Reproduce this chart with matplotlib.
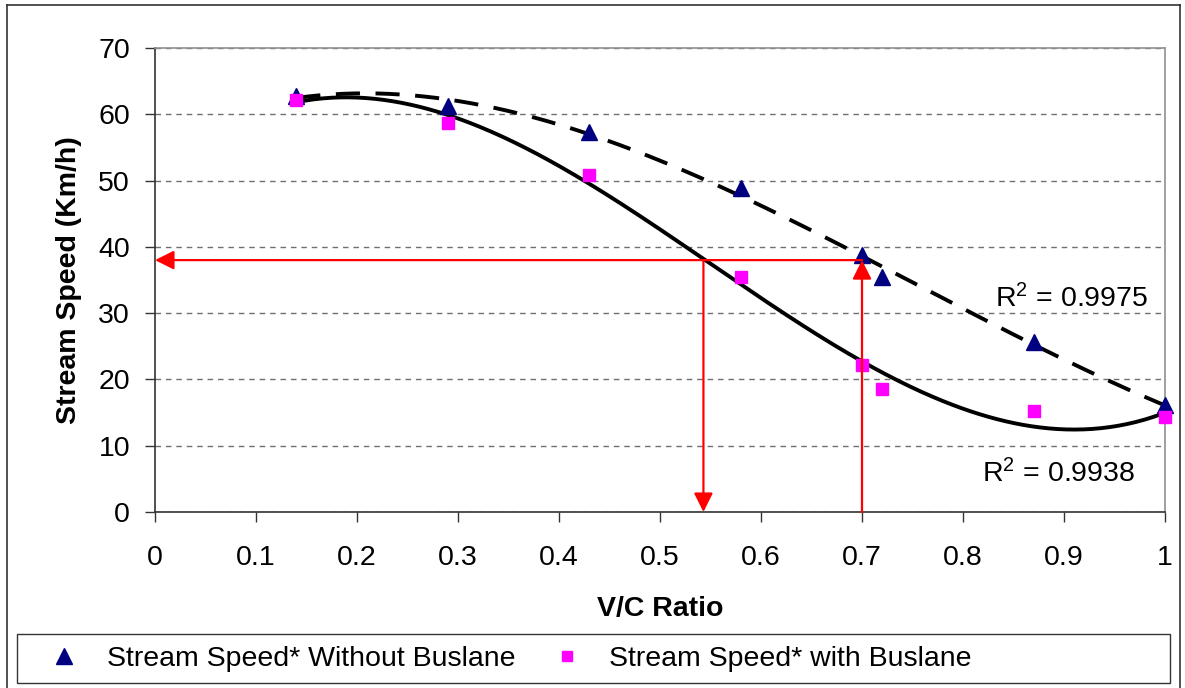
import numpy as np
import matplotlib
matplotlib.use("Agg")
import matplotlib.pyplot as plt
from matplotlib.lines import Line2D
from matplotlib.patches import Rectangle

plt.rcParams['font.family'] = ['Liberation Sans', 'DejaVu Sans']
plt.rcParams['mathtext.default'] = 'regular'

# data
vc_ratio = [0.14, 0.29, 0.43, 0.58, 0.70, 0.72, 0.87, 1.00]
speed_without = [62.8, 61.3, 57.3, 48.9, 38.8, 35.5, 25.6, 16.1]
speed_with = [62.1, 58.7, 50.8, 35.4, 22.2, 18.5, 15.2, 14.3]
r2_without = "R$^2$ = 0.9975"
r2_with = "R$^2$ = 0.9938"

# reading of the red arrows
read_speed = 38
read_vc_with = 0.543
read_vc_without = 0.70

x_ticks = [0, 0.1, 0.2, 0.3, 0.4, 0.5, 0.6, 0.7, 0.8, 0.9, 1]
x_tick_labels = ["0", "0.1", "0.2", "0.3", "0.4", "0.5", "0.6", "0.7", "0.8", "0.9", "1"]
y_ticks = [0, 10, 20, 30, 40, 50, 60, 70]

FS = 20.5
W, H = 1185, 688
fig = plt.figure(figsize=(W / 100, H / 100), dpi=100)
ax = fig.add_axes([155 / W, 1 - 512 / H, 1010 / W, 464 / H])

x = np.array(vc_ratio)
xs = np.linspace(x.min(), x.max(), 300)
fit_without = np.poly1d(np.polyfit(x, speed_without, 3))
fit_with = np.poly1d(np.polyfit(x, speed_with, 3))

ax.plot(xs, fit_without(xs), color="black", lw=2.8, linestyle=(0, (6.2, 4.0)), zorder=3)
ax.plot(xs, fit_with(xs), color="black", lw=2.8, zorder=3)

ax.plot(vc_ratio, speed_without, linestyle="none", marker="^", ms=11.5,
        color="#000080", zorder=4, clip_on=False)
ax.plot(vc_ratio, speed_with, linestyle="none", marker="s", ms=8,
        color="#FF00FF", zorder=4, clip_on=False)

arrow = dict(arrowstyle="-|>,head_length=0.5,head_width=0.25", color="red", lw=1.6,
             shrinkA=0, shrinkB=0, mutation_scale=23)
ax.annotate("", xy=(0, read_speed), xytext=(read_vc_without, read_speed),
            arrowprops=arrow, zorder=5)
ax.annotate("", xy=(read_vc_with, 0), xytext=(read_vc_with, read_speed),
            arrowprops=arrow, zorder=5)
ax.annotate("", xy=(read_vc_without, read_speed), xytext=(read_vc_without, 0),
            arrowprops=arrow, zorder=5)

ax.text(0.983, 30.9, r2_without, fontsize=FS, ha="right", va="baseline")
ax.text(0.970, 4.5, r2_with, fontsize=FS, ha="right", va="baseline")

ax.set_xlim(0, 1)
ax.set_ylim(0, 70)
ax.set_xticks(x_ticks)
ax.set_xticklabels(x_tick_labels)
ax.set_yticks(y_ticks)
ax.tick_params(axis="both", direction="out", length=7, width=1, labelsize=FS,
               color="#333333")
ax.tick_params(axis="x", pad=17)
ax.tick_params(axis="y", pad=11)
ax.grid(axis="y", color="#707070", linestyle=(0, (4, 3.5)), lw=1)
ax.set_axisbelow(True)
for side in ["left", "bottom"]:
    ax.spines[side].set_color("#333333")
    ax.spines[side].set_linewidth(1.2)
for side in ["top", "right"]:
    ax.spines[side].set_color("#909090")
    ax.spines[side].set_linewidth(1.2)

ax.set_xlabel("V/C Ratio", fontsize=FS, fontweight="bold", labelpad=18)
ax.set_ylabel("Stream Speed (Km/h)", fontsize=FS, fontweight="bold", labelpad=12)

# legend box spanning the bottom of the chart
fig.add_artist(Rectangle((17 / W, 1 - 683 / H), 1153 / W, 49 / H, transform=fig.transFigure,
                         fill=False, edgecolor="#333333", lw=1.0))
handles = [
    Line2D([], [], linestyle="none", marker="^", ms=11.5, color="#000080"),
    Line2D([], [], linestyle="none", marker="s", ms=7.5, color="#FF00FF"),
]
fig.legend(handles, ["Stream Speed* Without Buslane", "Stream Speed* with Buslane"],
           loc="center left", ncol=2, bbox_to_anchor=(50 / W, 1 - 659 / H),
           fontsize=FS, frameon=False, borderaxespad=0, borderpad=0,
           handlelength=1.0, handletextpad=1.0, columnspacing=1.3)

# outer chart border
border = dict(color="#333333", lw=1.2, transform=fig.transFigure)
fig.add_artist(Line2D([7 / W, 7 / W], [0, 1 - 5 / H], **border))
fig.add_artist(Line2D([7 / W, 1180 / W], [1 - 5 / H, 1 - 5 / H], **border))
fig.add_artist(Line2D([1180 / W, 1180 / W], [0, 1 - 5 / H], **border))

fig.savefig("out.png", dpi=100)
